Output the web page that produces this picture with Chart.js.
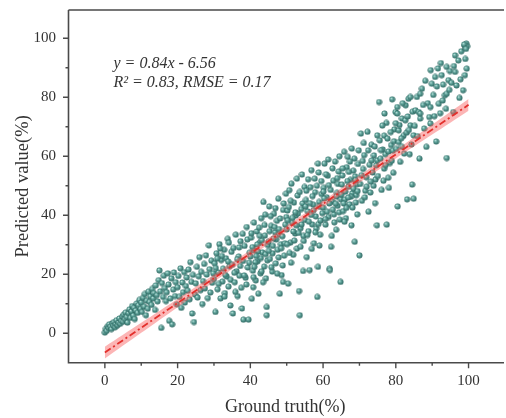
<!DOCTYPE html>
<html>
<head>
<meta charset="utf-8">
<script src="https://cdn.jsdelivr.net/npm/chart.js@4.4.1/dist/chart.umd.min.js"></script>
<style>
html,body{margin:0;padding:0;background:#fff;overflow:hidden;}
canvas{display:block;}
</style>
</head>
<body>
<canvas id="c" width="506" height="418"></canvas>
<script>
// ---- data ----
const groundTruth = [
0.0,0.3,0.5,0.8,1.0,1.2,1.5,1.8,2.0,2.3,
2.5,2.8,3.0,3.2,3.5,3.8,4.0,4.2,4.5,4.8,
5.0,5.2,5.5,5.7,6.0,6.2,6.5,6.8,7.0,7.3,
7.5,7.8,8.0,8.2,8.5,8.8,9.0,9.2,9.5,9.8,
10.0,10.2,10.5,10.8,11.0,11.3,11.5,11.8,12.0,12.3,
12.5,12.8,13.0,13.3,13.5,13.8,14.0,14.3,14.5,14.8,
15.0,15.2,15.5,15.7,16.0,16.2,16.5,16.8,17.0,17.3,
17.5,17.7,18.0,18.3,18.5,18.8,19.0,19.3,19.5,19.8,
20.0,20.2,20.5,20.8,21.0,21.3,21.5,21.8,22.0,22.3,
22.5,22.8,23.0,23.3,23.5,23.8,24.0,24.2,24.5,24.8,
25.0,25.3,25.5,25.8,26.0,26.3,26.5,26.8,27.0,27.3,
27.5,27.8,28.0,28.3,28.6,28.8,29.0,29.3,29.5,29.8,
30.0,30.2,30.4,30.7,31.0,31.2,31.5,31.8,32.0,32.3,
32.5,32.8,33.0,33.3,33.5,33.8,34.0,34.3,34.5,34.8,
30.5,31.3,32.2,33.1,33.9,34.6,31.7,32.9,30.9,34.1,
35.0,35.2,35.4,35.7,36.0,36.2,36.5,36.8,37.0,37.3,
37.5,37.7,38.0,38.1,38.4,38.7,39.0,39.3,39.5,39.8,
35.6,36.4,37.2,38.3,39.2,35.9,36.9,37.9,38.9,39.7,
40.0,40.2,40.4,40.7,41.0,41.2,41.5,41.8,42.0,42.2,
42.5,42.8,43.0,43.3,43.6,43.8,44.0,44.3,44.5,44.5,
40.6,41.4,42.4,43.2,44.2,40.9,41.9,42.9,43.9,44.8,
40.3,41.1,42.1,43.1,44.1,41.6,42.6,43.5,44.7,40.8,
45.0,45.2,45.4,45.7,46.0,46.2,46.5,46.8,47.0,47.3,
47.5,47.7,48.0,48.1,48.4,48.6,49.0,49.0,49.3,49.6,
45.3,46.1,47.1,48.2,49.2,45.8,46.7,47.8,48.8,49.8,
45.6,46.4,47.4,48.5,49.5,46.9,45.1,47.9,48.9,49.9,
50.0,50.2,50.4,50.7,51.0,51.3,51.5,51.8,52.0,52.3,
52.5,52.8,53.0,53.4,53.6,53.8,54.0,54.5,54.7,54.9,
50.3,51.1,52.1,53.1,54.1,50.8,51.8,52.8,53.8,54.4,
50.6,51.6,52.6,53.6,54.6,51.2,52.4,53.3,54.2,50.1,
55.0,55.3,55.5,55.8,56.0,56.3,56.5,56.8,57.0,57.3,
57.5,57.8,58.0,58.4,58.6,58.6,58.9,59.2,59.5,59.8,
55.2,56.1,57.1,58.1,59.1,55.7,56.7,57.7,58.7,59.6,
55.4,56.4,57.4,58.3,59.3,56.9,55.9,57.9,59.0,58.8,
60.0,60.2,60.4,60.7,61.0,61.3,61.5,61.8,61.9,62.2,
62.5,62.8,63.0,63.3,63.6,63.8,64.0,64.3,64.6,64.8,
60.3,61.1,62.1,63.1,64.1,60.8,61.7,62.7,63.7,64.5,
60.6,61.6,62.6,63.5,64.4,62.4,60.1,63.9,61.4,64.9,
65.0,65.3,65.5,65.8,66.0,66.3,66.5,66.8,67.0,67.3,
67.5,67.8,68.0,68.3,68.6,68.7,69.0,69.3,69.6,70.0,
65.2,66.1,67.1,68.1,69.1,65.7,66.7,67.7,68.8,69.8,
65.4,66.4,67.4,68.4,69.4,65.9,66.9,67.9,68.9,69.5,
70.2,70.4,70.7,71.0,71.3,71.6,71.9,72.2,72.5,72.8,
73.0,73.3,73.6,73.9,74.0,74.3,74.6,74.8,74.9,74.9,
70.6,71.5,72.4,73.4,74.4,71.2,72.0,73.1,74.2,70.9,
75.1,75.4,75.8,76.1,76.4,76.8,76.8,77.1,77.5,77.7,
78.1,78.4,78.7,79.0,79.3,79.6,79.9,75.6,76.6,77.4,
78.0,78.9,79.5,76.3,77.9,75.9,77.2,78.6,79.2,76.9,
80.1,80.4,80.5,80.8,80.8,81.2,81.7,81.7,82.1,82.6,
82.7,83.0,83.1,83.5,83.8,84.0,84.0,84.5,84.9,84.9,
80.4,81.0,81.5,82.3,83.3,84.3,80.0,81.9,83.6,84.6,
85.4,85.8,86.3,86.5,86.7,86.7,86.7,87.2,87.8,88.4,
88.8,89.2,89.5,89.5,89.6,89.9,85.2,86.0,87.5,88.1,
90.3,90.8,91.3,91.8,92.2,92.6,93.0,93.5,94.0,94.0,
94.0,94.5,94.9,90.6,91.6,92.9,93.8,94.7,91.1,92.4,
95.3,95.8,96.3,96.3,96.7,97.2,97.5,98.0,98.5,99.0,
99.0,99.2,99.4,99.5,99.6,98.8,99.1,96.0,97.8,99.3
];
const predicted = [
0.2,1.5,0.8,2.4,1.8,3.0,2.2,1.4,3.3,2.6,
3.8,2.0,3.1,4.4,2.7,3.6,5.0,3.2,4.2,5.6,
3.9,6.3,4.8,7.0,5.5,3.6,6.8,8.1,5.2,7.4,
9.2,6.0,8.6,4.8,7.7,10.1,6.9,9.5,11.3,8.2,
10.4,7.2,12.0,9.0,13.3,6.1,11.0,8.3,14.1,10.6,
12.5,9.6,15.0,11.8,13.6,7.9,16.2,12.9,10.8,18.0,
21.3,14.2,1.8,17.0,12.3,19.5,15.3,10.9,13.9,20.3,
16.5,4.2,11.8,18.6,3.0,14.8,20.6,12.6,17.3,9.8,
15.6,19.4,12.3,22.0,8.6,17.2,13.9,20.7,10.4,16.0,
18.9,14.4,21.6,11.5,24.1,17.4,6.7,19.8,3.8,13.1,
16.9,22.5,12.1,19.3,25.8,14.6,20.8,9.9,17.7,23.5,
15.2,26.4,19.9,11.9,29.8,21.7,13.8,24.6,17.1,20.3,
18.4,23.7,7.2,27.1,14.9,20.6,30.2,11.8,24.8,17.5,
21.9,28.3,13.6,25.4,19.2,32.0,15.8,22.7,9.4,27.6,
22.1,16.7,26.2,19.8,24.3,18.1,28.7,12.4,25.3,30.7,
23.2,6.7,28.9,17.3,33.4,21.0,12.6,26.0,19.5,31.2,
15.4,8.4,24.5,4.6,29.6,18.8,36.0,22.3,4.6,27.3,
20.5,25.1,22.8,19.6,31.8,14.0,29.1,33.7,16.5,23.9,
26.0,32.4,11.7,21.2,37.5,28.1,17.9,34.5,24.4,13.4,
30.6,20.3,39.0,27.4,44.5,22.6,33.1,18.6,6.1,8.9,
29.2,24.1,35.8,31.5,26.8,19.0,30.1,25.5,36.7,29.9,
33.9,22.5,27.7,21.0,40.2,26.2,33.0,17.3,24.7,15.6,
31.0,43.0,25.2,36.4,20.9,29.6,40.5,34.2,23.7,38.1,
28.3,45.6,33.5,13.4,30.2,19.7,41.8,17.4,26.3,36.8,
34.6,27.1,31.8,38.9,44.0,22.4,36.0,25.7,32.9,47.3,
39.7,32.1,20.2,28.8,30.5,42.4,27.9,35.3,23.0,39.4,
35.2,41.6,16.8,48.5,30.7,50.7,37.4,26.6,44.3,33.8,
39.9,28.7,46.7,14.3,6.1,35.6,42.1,21.1,31.3,49.6,
38.3,44.9,31.4,40.6,36.9,27.2,34.5,52.4,29.3,44.0,
42.8,39.1,36.6,47.9,33.0,23.9,41.0,34.0,53.8,30.2,
38.4,45.2,25.8,41.3,34.6,21.4,49.5,55.3,36.9,43.6,
30.5,47.8,39.6,12.3,22.5,57.5,44.5,33.4,51.6,40.7,
43.0,37.8,46.5,35.5,42.9,33.3,40.1,52.4,37.0,47.2,
48.3,44.1,41.7,50.0,38.2,28.6,52.2,34.2,29.7,54.5,
42.6,49.3,57.5,36.8,46.1,53.4,39.4,21.9,21.4,29.3,
44.8,51.7,40.3,58.2,35.1,47.6,43.2,54.8,38.5,17.4,
45.7,41.2,48.6,37.6,50.6,53.9,44.0,41.9,46.4,60.0,
38.7,50.2,55.9,43.9,41.0,33.0,48.0,52.6,58.9,45.4,
47.0,53.5,41.4,61.5,45.3,39.0,56.3,59.8,49.7,43.7,
52.0,36.6,47.4,55.1,59.2,31.0,44.3,50.5,57.4,26.4,
50.4,48.0,54.7,42.6,46.8,44.0,51.6,46.3,53.2,62.0,
55.9,42.5,58.2,49.0,40.3,37.8,46.0,62.6,51.9,48.2,
50.6,67.7,44.9,55.7,60.4,48.3,52.9,68.3,41.2,57.1,
47.7,63.9,54.5,50.0,60.3,44.1,56.9,36.6,58.6,67.1,
53.6,46.1,62.0,58.6,52.1,64.5,49.7,51.4,63.3,58.4,
53.3,78.4,59.2,48.6,62.3,55.8,67.0,60.7,36.8,66.0,
49.3,57.7,63.8,79.3,54.4,69.1,75.0,65.4,51.7,71.3,
61.6,58.5,65.1,70.4,52.7,62.1,57.0,68.2,61.9,74.5,
62.5,74.5,43.0,64.8,68.8,58.1,72.8,63.2,66.9,72.2,
77.3,68.0,45.4,79.5,60.7,80.1,70.5,50.4,45.6,67.1,
76.7,70.6,66.1,60.9,73.5,64.0,71.2,78.0,68.9,75.1,
75.6,80.1,75.0,59.2,72.8,74.5,81.2,82.9,69.4,63.2,
78.0,73.3,76.7,71.1,89.2,84.6,70.3,66.8,77.4,85.6,
80.8,86.9,83.7,77.8,74.6,87.5,84.3,80.7,81.2,90.3,
59.4,85.8,88.9,73.6,89.8,78.9,76.1,82.5,65.0,91.6,
84.9,75.0,94.2,88.6,84.0,92.5,79.8,95.6,82.4,87.5,
97.6,96.8,98.2,89.7,97.3,97.9,93.0,90.6,86.1,96.4
];

// fitted line and its confidence band
const fitX = [0, 100];
const fitY = [-6.56, 77.44];
const bandX = [0, 10, 20, 30, 40, 50, 60, 70, 80, 90, 100];
const bandUpper = [-4.56, 3.54, 11.64, 19.84, 28.09, 36.44, 44.89, 53.44, 62.04, 70.74, 79.44];
const bandLower = [-8.56, 0.14, 8.84, 17.44, 25.99, 34.44, 42.79, 51.04, 59.24, 67.34, 75.44];

// ticks and texts
const xMajorTicks = [0, 20, 40, 60, 80, 100];
const xMinorTicks = [10, 30, 50, 70, 90];
const yMajorTicks = [0, 20, 40, 60, 80, 100];
const yMinorTicks = [10, 30, 50, 70, 90];
const xTitle = 'Ground truth(%)';
const yTitle = 'Predicted value(%)';
const equationText = 'y = 0.84x - 6.56';
const statsText = 'R\u00B2 = 0.83, RMSE = 0.17';

// ---- rendering ----
const SERIF = '"Liberation Serif", "Times New Roman", serif';

function makeSphere(r) {
  const s = Math.ceil(r * 2) + 1;
  const c = document.createElement('canvas');
  c.width = s; c.height = s;
  const g = c.getContext('2d');
  const cx = s / 2, cy = s / 2;
  const grad = g.createRadialGradient(cx - r * 0.35, cy - r * 0.4, r * 0.1, cx, cy, r);
  grad.addColorStop(0, '#c4e6e0');
  grad.addColorStop(0.35, '#66aaa1');
  grad.addColorStop(1, '#2c6660');
  g.fillStyle = grad;
  g.beginPath(); g.arc(cx, cy, r, 0, Math.PI * 2); g.fill();
  return c;
}
const sphere = makeSphere(3.0);

const n = Math.min(groundTruth.length, predicted.length);
const scatterData = [];
for (let i = 0; i < n; i++) scatterData.push({x: groundTruth[i], y: predicted[i]});
const fitData = fitX.map((x, i) => ({x, y: fitY[i]}));
const upperData = bandX.map((x, i) => ({x, y: bandUpper[i]}));
const lowerData = bandX.map((x, i) => ({x, y: bandLower[i]}));

const axesPlugin = {
  id: 'axesPlugin',
  afterDraw(chart) {
    const {ctx, chartArea: a, scales: {x, y}} = chart;
    ctx.save();
    ctx.strokeStyle = '#4a4a4a';
    ctx.lineWidth = 1.6;
    ctx.beginPath();
    ctx.moveTo(a.left, a.top); ctx.lineTo(a.right + 2, a.top);
    ctx.moveTo(a.left, a.top); ctx.lineTo(a.left, a.bottom);
    ctx.lineTo(a.right + 2, a.bottom);
    ctx.stroke();
    ctx.lineWidth = 1.4;
    ctx.beginPath();
    xMajorTicks.forEach(v => { const p = x.getPixelForValue(v); ctx.moveTo(p, a.bottom); ctx.lineTo(p, a.bottom + 5.5); });
    xMinorTicks.forEach(v => { const p = x.getPixelForValue(v); ctx.moveTo(p, a.bottom); ctx.lineTo(p, a.bottom + 3); });
    yMajorTicks.forEach(v => { const p = y.getPixelForValue(v); ctx.moveTo(a.left, p); ctx.lineTo(a.left - 5.5, p); });
    yMinorTicks.forEach(v => { const p = y.getPixelForValue(v); ctx.moveTo(a.left, p); ctx.lineTo(a.left - 3, p); });
    ctx.stroke();
    ctx.fillStyle = '#333';
    ctx.font = 'italic 16px ' + SERIF;
    ctx.textBaseline = 'alphabetic';
    ctx.textAlign = 'left';
    ctx.fillText(equationText, a.left + 45, a.top + 58);
    ctx.fillText(statsText, a.left + 45, a.top + 77);
    ctx.restore();
  }
};

new Chart(document.getElementById('c'), {
  type: 'scatter',
  data: {
    datasets: [
      {
        type: 'line', data: fitData, order: 0,
        borderColor: '#e3302c', borderWidth: 1.8, borderDash: [7, 3, 2, 3],
        pointRadius: 0, fill: false, tension: 0
      },
      {
        type: 'line', data: upperData, order: 1,
        borderWidth: 0, borderColor: 'rgba(0,0,0,0)', pointRadius: 0,
        backgroundColor: 'rgba(248,90,90,0.45)', fill: '+1', tension: 0.3
      },
      {
        type: 'line', data: lowerData, order: 2,
        borderWidth: 0, borderColor: 'rgba(0,0,0,0)', pointRadius: 0,
        fill: false, tension: 0.3
      },
      {
        type: 'scatter', data: scatterData, order: 3,
        pointStyle: sphere, pointRadius: 3, pointHoverRadius: 3
      }
    ]
  },
  options: {
    responsive: false,
    animation: false,
    devicePixelRatio: 1,
    layout: {padding: {top: 10, left: 0, right: 0, bottom: 0}},
    plugins: {legend: {display: false}, tooltip: {enabled: false}},
    scales: {
      x: {
        type: 'linear', min: -10, max: 109.2,
        grid: {display: false, drawTicks: false},
        border: {display: false},
        afterBuildTicks: s => { s.ticks = xMajorTicks.map(v => ({value: v})); },
        afterFit: s => { s.height = 55.3; s.paddingLeft = 0; s.paddingRight = 0; },
        ticks: {color: '#333', padding: 9, font: {family: SERIF, size: 15}},
        title: {display: true, text: xTitle, color: '#333', font: {family: SERIF, size: 18}, padding: {top: 0, bottom: 0}}
      },
      y: {
        type: 'linear', min: -10, max: 109.6,
        grid: {display: false, drawTicks: false},
        border: {display: false},
        afterBuildTicks: s => { s.ticks = yMajorTicks.map(v => ({value: v})); },
        afterFit: s => { s.width = 68.5; s.paddingTop = 0; s.paddingBottom = 0; },
        ticks: {color: '#333', padding: 12.5, font: {family: SERIF, size: 15}},
        title: {display: true, text: yTitle, color: '#333', font: {family: SERIF, size: 18.5}, padding: {top: 12, bottom: 0}}
      }
    }
  },
  plugins: [axesPlugin]
});
</script>
</body>
</html>
